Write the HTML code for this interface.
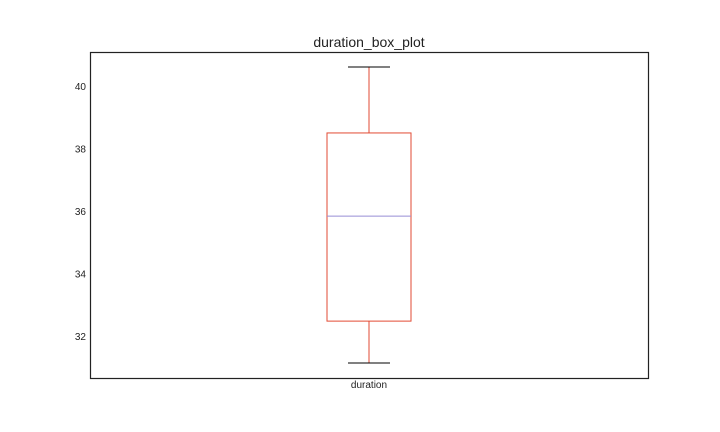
<!DOCTYPE html>
<html><head><meta charset="utf-8"><style>
html,body{margin:0;padding:0;background:#fff;}
svg{display:block;font-family:"Liberation Sans",sans-serif;}
</style></head><body>
<svg id="chart" width="720" height="432" viewBox="0 0 720 432" xmlns="http://www.w3.org/2000/svg">
<text x="369" y="47" text-anchor="middle" font-size="14" fill="#222">duration_box_plot</text>
<g id="plot"></g>
<rect x="90.5" y="52.5" width="558" height="326" fill="none" stroke="#222" stroke-width="1.2"/>
</svg>
<script>
const categories = ["duration"];
const whiskerLow = [31.14];
const q1 = [32.48];
const medians = [35.84];
const q3 = [38.5];
const whiskerHigh = [40.61];
const yTicks = [32, 34, 36, 38, 40];

const L = 90, R = 648, T = 52, B = 378;
const yMin = 30.66, yMax = 41.09;
const y = v => B - (v - yMin) / (yMax - yMin) * (B - T);
const xc = i => L + (R - L) * (i + 0.5) / categories.length;
const NS = "http://www.w3.org/2000/svg";
const g = document.getElementById('plot');
function mk(tag, attrs) {
  const e = document.createElementNS(NS, tag);
  for (const k in attrs) e.setAttribute(k, attrs[k]);
  g.appendChild(e);
  return e;
}
yTicks.forEach(t => {
  const tx = mk('text', {x: 86, y: y(t) + 4, 'text-anchor': 'end', 'font-size': 10, fill: '#222'});
  tx.textContent = t;
  
  
});
categories.forEach((c, i) => {
  const cx = xc(i), hw = 42, cw = 21;
  const lbl = mk('text', {x: cx, y: 388, 'text-anchor': 'middle', 'font-size': 10, fill: '#222'});
  lbl.textContent = c;
  
  
  const w1 = mk('line', {x1: cx, x2: cx, y1: y(q3[i]), y2: y(whiskerHigh[i]), stroke: '#E24A33', 'stroke-width': 1});
  
  
  const w2 = mk('line', {x1: cx, x2: cx, y1: y(q1[i]), y2: y(whiskerLow[i]), stroke: '#E24A33', 'stroke-width': 1});
  
  
  const c1 = mk('line', {x1: cx - cw, x2: cx + cw, y1: y(whiskerHigh[i]), y2: y(whiskerHigh[i]), stroke: '#000', 'stroke-width': 1});
  
  
  const c2 = mk('line', {x1: cx - cw, x2: cx + cw, y1: y(whiskerLow[i]), y2: y(whiskerLow[i]), stroke: '#000', 'stroke-width': 1});
  
  
  const bx = mk('rect', {x: cx - hw, y: y(q3[i]), width: 2 * hw, height: y(q1[i]) - y(q3[i]), fill: 'none', stroke: '#E24A33', 'stroke-width': 1});
  
  
  const md = mk('line', {x1: cx - hw, x2: cx + hw, y1: y(medians[i]), y2: y(medians[i]), stroke: '#988ED5', 'stroke-width': 1});
  
  
});
</script>
</body></html>
